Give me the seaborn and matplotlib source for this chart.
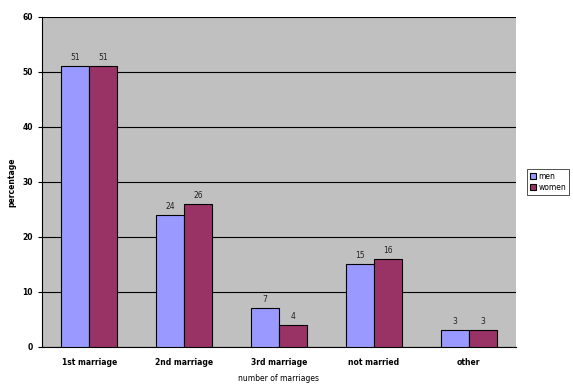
import matplotlib
matplotlib.use("Agg")
import matplotlib.pyplot as plt
import pandas as pd
import seaborn as sns

categories = ["1st marriage", "2nd marriage", "3rd marriage", "not married", "other"]
men = [51, 24, 7, 15, 3]
women = [51, 26, 4, 16, 3]

df = pd.DataFrame({
    "category": categories * 2,
    "value": men + women,
    "sex": ["men"] * len(men) + ["women"] * len(women),
})

sns.set_style("white")
plt.rcParams["font.family"] = ["DejaVu Sans"]
plt.rcParams["text.color"] = "black"
plt.rcParams["axes.labelcolor"] = "black"
plt.rcParams["xtick.color"] = "black"
plt.rcParams["ytick.color"] = "black"

fig = plt.figure(figsize=(5.73, 3.92), dpi=100)
ax = fig.add_axes([0.073, 0.115, 0.8275, 0.842])
ax.set_facecolor("#C0C0C0")

sns.barplot(data=df, x="category", y="value", hue="sex",
            palette={"men": "#9999FF", "women": "#993366"},
            width=0.59, edgecolor="black", linewidth=0.8, saturation=1,
            ax=ax, zorder=3)

for cont in ax.containers:
    ax.bar_label(cont, fontsize=5.5, padding=3, color="#222222")

ax.set_ylim(0, 60)
ax.set_xlim(-0.5, len(categories) - 0.5)
ax.set_yticks(range(0, 61, 10))
ax.yaxis.grid(True, color="black", linewidth=0.8, zorder=0)
ax.set_axisbelow(True)

# tick marks between the categories
ax.set_xticks([i + 0.5 for i in range(-1, len(categories))], minor=True)
ax.tick_params(axis="x", which="major", length=0, labelsize=5.5, pad=8)
ax.tick_params(axis="x", which="minor", length=3, width=0.8, color="black", direction="out")
ax.tick_params(axis="y", length=3, width=0.8, labelsize=5.5, direction="out", color="black", left=True)
for lbl in ax.get_xticklabels() + ax.get_yticklabels():
    lbl.set_fontweight("bold")

for s in ["top", "right"]:
    ax.spines[s].set_visible(False)
for s in ["left", "bottom"]:
    ax.spines[s].set_color("black")
    ax.spines[s].set_linewidth(0.8)

ax.set_xlabel("number of marriages", fontsize=5.5, labelpad=5)
ax.set_ylabel("percentage", fontsize=5.5, fontweight="bold", labelpad=4)

leg = ax.legend(loc="center left", bbox_to_anchor=(1.015, 0.5), fontsize=5.5,
                frameon=True, fancybox=False, edgecolor="black",
                handlelength=0.8, handleheight=0.8, handletextpad=0.3,
                borderpad=0.4, labelspacing=0.3)
leg.get_frame().set_linewidth(0.6)

fig.savefig("out.png", dpi=100, facecolor="white")
